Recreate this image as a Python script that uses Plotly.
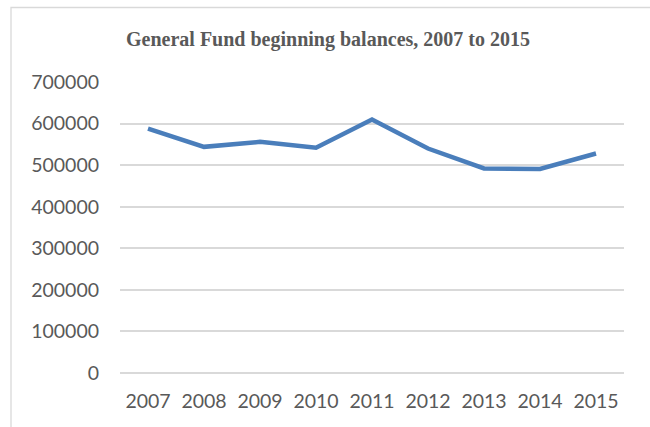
import plotly.graph_objects as go

# General Fund beginning balances by year
years = ["2007", "2008", "2009", "2010", "2011", "2012", "2013", "2014", "2015"]
balances = [588000, 544000, 556000, 542000, 610000, 540000, 492000, 491000, 528000]
y_ticks = [0, 100000, 200000, 300000, 400000, 500000, 600000, 700000]

W, H = 650, 427
ML, MR, MT, MB = 120, 26, 82, 54
plot_w = W - ML - MR
plot_h = H - MT - MB

grid_color = "#d9d9d9"
text_color = "#595959"

fig = go.Figure(
    go.Scatter(
        x=years,
        y=balances,
        mode="lines",
        line=dict(color="#4a7ebb", width=4.5),
        hoverinfo="x+y",
    )
)

# chart-area frame (extends past the right and bottom edges of the page)
fig.add_shape(
    type="rect",
    xref="paper", yref="paper",
    x0=(11 - ML) / plot_w, x1=(W + 5 - ML) / plot_w,
    y0=-(MB + 10) / plot_h, y1=1 + (MT - 7.5) / plot_h,
    line=dict(color=grid_color, width=1.3),
    fillcolor="rgba(0,0,0,0)",
    layer="below",
)

fig.update_layout(
    width=W,
    height=H,
    margin=dict(l=ML, r=MR, t=MT, b=MB, pad=0),
    paper_bgcolor="white",
    plot_bgcolor="white",
    showlegend=False,
    title=dict(
        text="<b>General Fund beginning balances, 2007 to 2015</b>",
        font=dict(family="Liberation Serif", size=20, color=text_color),
        x=328 / W,
        xanchor="center",
        xref="container",
        y=1 - 39 / H,
        yanchor="middle",
        yref="container",
    ),
    font=dict(family="Lato", size=19.5, color=text_color),
)

# each year sits in the middle of its own band
fig.update_xaxes(
    type="category",
    range=[-0.5, len(years) - 0.5],
    showgrid=False,
    showline=False,
    zeroline=False,
    ticks="",
    ticklabelstandoff=14,
    tickfont=dict(family="Lato", size=19.5, color=text_color),
)

fig.update_yaxes(
    range=[0, 700000],
    tickvals=y_ticks,
    ticktext=[str(v) for v in y_ticks],
    showgrid=True,
    gridcolor=grid_color,
    gridwidth=1.8,
    zeroline=True,
    zerolinecolor=grid_color,
    zerolinewidth=1.8,
    showline=False,
    ticks="",
    ticklabelstandoff=20,
    tickfont=dict(family="Lato", size=19.5, color=text_color),
)

fig.write_html("out.html")
